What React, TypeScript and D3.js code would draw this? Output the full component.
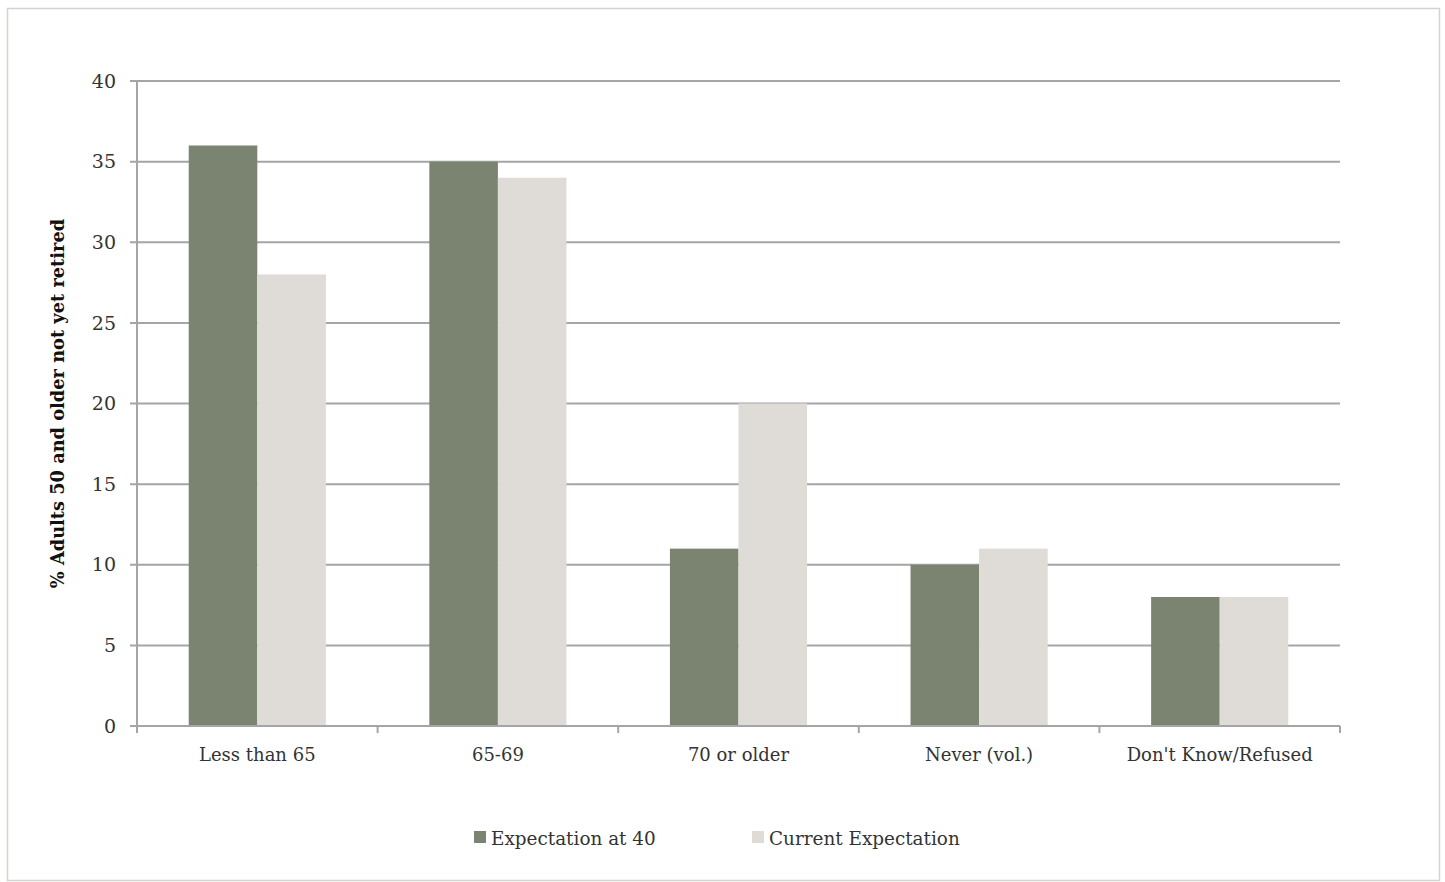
import React from "react";
import * as d3 from "d3";

const categories = ["Less than 65", "65-69", "70 or older", "Never (vol.)", "Don't Know/Refused"];
const seriesNames = ["Expectation at 40", "Current Expectation"];
const expectationAt40 = [36, 35, 11, 10, 8];
const currentExpectation = [28, 34, 20, 11, 8];
const yTicks = [0, 5, 10, 15, 20, 25, 30, 35, 40];
const colors = ["#7a8470", "#dfdcd7"];

const W = 1445;
const H = 882;
const margin = { left: 137, right: 105, top: 81, bottom: 156 };
const FONT = "'DejaVu Serif', serif";

export default function App() {
  const x0 = d3
    .scaleBand<string>()
    .domain(categories)
    .range([margin.left, W - margin.right])
    .paddingInner(0.43)
    .paddingOuter(0.215);
  const x1 = d3.scaleBand<number>().domain([0, 1]).range([0, x0.bandwidth()]);
  const y = d3.scaleLinear().domain([0, 40]).range([H - margin.bottom, margin.top]);
  const step = x0.step();
  const series = [expectationAt40, currentExpectation];
  const y0 = y(0);

  return (
    <svg width={W} height={H} style={{ position: "absolute", left: 0, top: 0 }}>
      <rect x={7.5} y={8.5} width={1432} height={872} fill="#fff" stroke="#d6d2cd" strokeWidth={1.5} />
      {yTicks.map((t) => (
        <g key={t}>
          <line x1={margin.left - 7} x2={W - margin.right} y1={y(t)} y2={y(t)} stroke="#a5a5a5" strokeWidth={2} />
          <text
            x={116}
            y={y(t)}
            dy="0.35em"
            textAnchor="end"
            fontFamily={FONT}
            fontSize={19}
            fill="#333"
          >
            {t}
          </text>
        </g>
      ))}
      {categories.map((c, i) =>
        series.map((s, k) => (
          <rect
            key={c + k}
            x={x0(c)! + x1(k)!}
            y={y(s[i])}
            width={x1.bandwidth()}
            height={y0 - y(s[i])}
            fill={colors[k]}
          />
        ))
      )}
      <line x1={margin.left} x2={margin.left} y1={margin.top} y2={y0 + 7} stroke="#a5a5a5" strokeWidth={2} />
      <line x1={margin.left} x2={W - margin.right} y1={y0} y2={y0} stroke="#a5a5a5" strokeWidth={2} />
      {d3.range(categories.length + 1).map((i) => (
        <line
          key={i}
          x1={margin.left + i * step}
          x2={margin.left + i * step}
          y1={y0}
          y2={y0 + 7}
          stroke="#a5a5a5"
          strokeWidth={2}
        />
      ))}
      {categories.map((c) => (
        <text
          key={c}
          x={x0(c)! + x0.bandwidth() / 2}
          y={761}
          textAnchor="middle"
          fontFamily={FONT}
          fontSize={18}
          fill="#333"
        >
          {c}
        </text>
      ))}
      <text
        transform={`translate(64,${(margin.top + y0) / 2}) rotate(-90)`}
        textAnchor="middle"
        fontFamily={FONT}
        fontSize={17.8}
        fontWeight="bold"
        fill="#111"
      >
        % Adults 50 and older not yet retired
      </text>
      {seriesNames.map((n, k) => (
        <g key={n} transform={`translate(${474 + k * 278},831)`}>
          <rect width={12} height={12} fill={colors[k]} />
          <text x={17} y={14} fontFamily={FONT} fontSize={18.4} fill="#333">
            {n}
          </text>
        </g>
      ))}
    </svg>
  );
}
